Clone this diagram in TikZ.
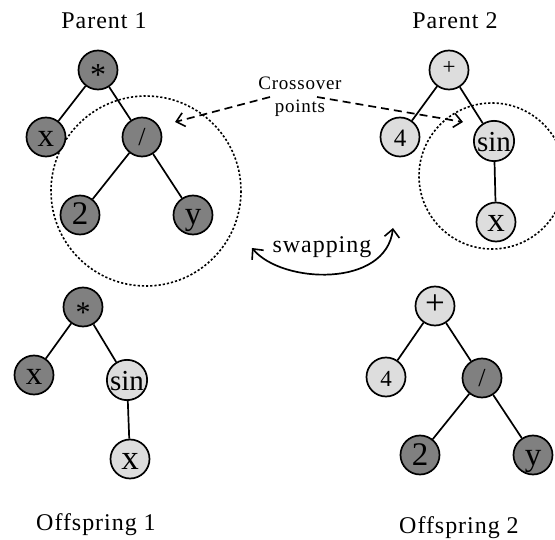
\documentclass[tikz,border=0pt]{standalone}
\usepackage{fontspec}
\setmainfont{Liberation Serif}
\newfontfamily\lblfont[LetterSpace=4]{Liberation Serif}
\usetikzlibrary{arrows.meta}

\definecolor{darknode}{RGB}{128,128,128}
\definecolor{lightnode}{RGB}{221,221,221}
\newcommand\fsz[1]{\fontsize{#1}{#1}\selectfont}

\tikzset{
  treenode/.style={circle, draw=black, line width=1.7pt, minimum size=39pt,
                   inner sep=0pt, text height=20pt, text depth=0pt, font=\fsz{33}},
  dk/.style={treenode, fill=darknode},
  lt/.style={treenode, fill=lightnode},
  small/.style={font=\fsz{23}},
  slash/.style={font=\fsz{26}, text height=18pt},
  edge/.style={line width=1.7pt},
  region/.style={line width=1.6pt, dash pattern=on 2.2pt off 2pt},
  pointer/.style={line width=1.7pt, dash pattern=on 8pt off 5pt,
                  -{Straight Barb[length=8pt,width=14pt,line width=1.6pt]}},
  caption/.style={anchor=base, font=\lblfont\fsz{24}, inner sep=0pt}
}

\begin{document}
\begin{tikzpicture}[x=1pt, y=-1pt]
\useasboundingbox (0,0) rectangle (555,540);

% subtree regions
\draw[region] (146,191) circle (95);
\draw[region] (492,176) circle (73);

% Parent 1
\node[caption] (p1lab) at (104,28.5) {Parent 1};
\node[dk, text height=32pt, font=\fsz{32}] (a1) at (98,70) {*};
\node[dk] (a2) at (46,137) {x};
\node[dk, slash] (a3) at (142,137) {/};
\node[dk] (a4) at (80,215) {2};
\node[dk] (a5) at (193,215) {y};
\draw[edge] (a1) -- (a2);
\draw[edge] (a1) -- (a3);
\draw[edge] (a3) -- (a4);
\draw[edge] (a3) -- (a5);

% Parent 2
\node[caption] (p2lab) at (455,29) {Parent 2};
\node[lt, small, text height=10pt] (b1) at (449,70) {+};
\node[lt, font=\fsz{25}] (b2) at (400,137) {4};
\node[lt, font=\fsz{29}, text height=22pt] (b3) at (494,141) {sin};
\node[lt, font=\fsz{35}] (b4) at (496,222) {x};
\draw[edge] (b1) -- (b2);
\draw[edge] (b1) -- (b3);
\draw[edge] (b3) -- (b4);

% crossover annotation
\node[anchor=base, align=center, font=\lblfont\fontsize{19}{23}\selectfont, inner sep=0pt]
  (cross) at (300,113) {Crossover\\points};
\coordinate (cl0) at (270,97);
\coordinate (cl1) at (175,122);
\coordinate (cr0) at (317,97);
\coordinate (cr1) at (463,122);
\draw[pointer] (cl0) -- (cl1);
\draw[pointer] (cr0) -- (cr1);

% swapping
\node[caption] (swap) at (322,253) {swapping};
\coordinate (sw0) at (252,248);
\coordinate (sw1) at (393,228);
\draw[line width=1.7pt, {Straight Barb[length=8pt,width=15pt,line width=1.6pt]}-{Straight Barb[length=8pt,width=15pt,line width=1.6pt]}]
  (sw0) .. controls (282,284) and (386,288) .. (sw1);

% Offspring 1
\node[dk, text height=32pt, font=\fsz{30}] (c1) at (83,307) {*};
\node[dk] (c2) at (34,375) {x};
\node[lt, font=\fsz{29}, text height=22pt] (c3) at (127,380) {sin};
\node[lt, font=\fsz{35}] (c4) at (130,459) {x};
\draw[edge] (c1) -- (c2);
\draw[edge] (c1) -- (c3);
\draw[edge] (c3) -- (c4);
\node[caption] (o1lab) at (96,530) {Offspring 1};

% Offspring 2
\node[lt, text height=18pt, font=\fsz{35}] (d1) at (435,306) {+};
\node[lt, font=\fsz{23}] (d2) at (386,377) {4};
\node[dk, slash] (d3) at (482,378) {/};
\node[dk] (d4) at (420,455) {2};
\node[dk] (d5) at (533,455) {y};
\draw[edge] (d1) -- (d2);
\draw[edge] (d1) -- (d3);
\draw[edge] (d3) -- (d4);
\draw[edge] (d3) -- (d5);
\node[caption] (o2lab) at (459,533) {Offspring 2};
\end{tikzpicture}
\end{document}
